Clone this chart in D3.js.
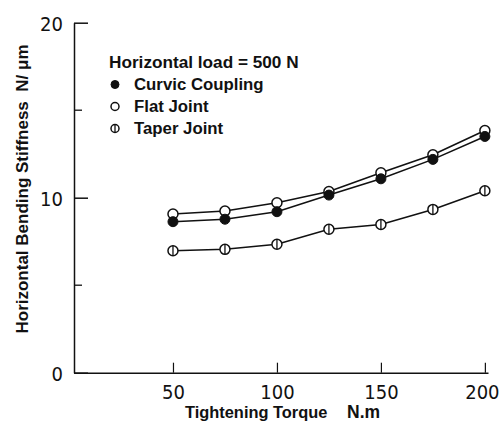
<!DOCTYPE html>
<html><head><meta charset="utf-8">
<script src="https://cdn.jsdelivr.net/npm/d3@7"></script>
<style>
html,body{margin:0;padding:0;background:#fff;}
svg{display:block;}
.bold{font-family:"Liberation Sans",Arial,sans-serif;font-weight:bold;fill:#111;}
</style>
</head><body>
<script>
const torque = [50, 75, 100, 125, 150, 175, 200];
const curvic = [8.63, 8.77, 9.2, 10.15, 11.08, 12.19, 13.5];
const flat   = [9.07, 9.24, 9.71, 10.35, 11.42, 12.45, 13.84];
const taper  = [6.97, 7.05, 7.34, 8.2, 8.47, 9.33, 10.4];
const xTicks = [50, 100, 150, 200];
const yTicks = [0, 10, 20];
const yMinor = [5, 15];
const legendTitle = "Horizontal load = 500 N";
const seriesNames = ["Curvic Coupling", "Flat Joint", "Taper Joint"];
const xTitle = "Tightening Torque";
const xUnit = "N.m";
const yTitle = "Horizontal Bending Stiffness  N/ \u03bcm";

const W = 500, H = 431;
const svg = d3.select("body").append("svg").attr("width", W).attr("height", H);

const x = d3.scaleLinear().domain([2.4, 201.5]).range([74, 488]);
const y = d3.scaleLinear().domain([0, 20]).range([372.7, 22.7]);

const tickFont = '"DejaVu Sans Condensed","Liberation Sans Narrow",sans-serif';

// X axis
const gx = svg.append("g").attr("transform", `translate(0,${y(0)})`)
  .call(d3.axisBottom(x).tickValues(xTicks).tickSizeInner(-10).tickSizeOuter(0).tickPadding(12).tickFormat(d3.format("d")));
gx.select(".domain").attr("stroke", "#111").attr("stroke-width", 1.5);
gx.selectAll(".tick line").attr("stroke", "#111").attr("stroke-width", 1.2);
gx.selectAll(".tick text").attr("font-family", tickFont).attr("font-size", 20).attr("fill", "#111")
  .attr("dx", d => d === 200 ? -3 : 0);

// Y axis
const gy = svg.append("g").attr("transform", `translate(${x(2.4)},0)`)
  .call(d3.axisLeft(y).tickValues(yTicks).tickSizeInner(-14).tickSizeOuter(0).tickPadding(11).tickFormat(d3.format("d")));
gy.select(".domain").attr("stroke", "#111").attr("stroke-width", 1.5);
gy.selectAll(".tick line").attr("stroke", "#111").attr("stroke-width", 1.5);
gy.selectAll(".tick text").attr("font-family", tickFont).attr("font-size", 20).attr("fill", "#111").attr("dy", "0.4em");
gy.selectAll(".minor").data(yMinor).enter().append("line")
  .attr("x1", 0).attr("x2", 8).attr("y1", d => y(d)).attr("y2", d => y(d))
  .attr("stroke", "#111").attr("stroke-width", 1.3);

// Lines and markers
const line = d3.line().x((d, i) => x(torque[i])).y(d => y(d));
const R = 5;
function drawSeries(vals) {
  svg.append("path").datum(vals).attr("d", line)
    .attr("fill", "none").attr("stroke", "#111").attr("stroke-width", 1.6);
}
function drawMarkers(vals, type, r) {
  const g = svg.append("g");
  vals.forEach((v, i) => marker(g, x(torque[i]), y(v), type, r));
}
function marker(g, cx, cy, type, r) {
  if (type === 0) {
    g.append("circle").attr("cx", cx).attr("cy", cy).attr("r", r).attr("fill", "#111").attr("stroke", "#111").attr("stroke-width", 1);
  } else {
    g.append("circle").attr("cx", cx).attr("cy", cy).attr("r", r).attr("fill", "#fff").attr("stroke", "#111").attr("stroke-width", 1.5);
    if (type === 2) {
      g.append("line").attr("x1", cx).attr("x2", cx).attr("y1", cy - r).attr("y2", cy + r)
        .attr("stroke", "#111").attr("stroke-width", 1.3);
    }
  }
}
drawSeries(flat);
drawSeries(curvic);
drawSeries(taper);
drawMarkers(flat, 1, R);
drawMarkers(curvic, 0, R);
drawMarkers(taper, 2, R);

// Legend
svg.append("text").attr("class", "bold").attr("x", 109).attr("y", 68).attr("font-size", 17.2).text(legendTitle);
const legY = [90, 112, 134];
seriesNames.forEach((n, i) => {
  const g = svg.append("g");
  marker(g, 115, legY[i] - 5.5, i, 4);
  svg.append("text").attr("class", "bold").attr("x", 134).attr("y", legY[i]).attr("font-size", 16.8).text(n);
});

// Axis titles
svg.append("text").attr("class", "bold").attr("x", 185).attr("y", 418).attr("font-size", 16.4).text(xTitle);
svg.append("text").attr("class", "bold").attr("x", 347).attr("y", 418).attr("font-size", 17.5).text(xUnit);
svg.append("text").attr("class", "bold").attr("transform", "translate(28,189) rotate(-90)")
  .attr("text-anchor", "middle").attr("font-size", 17).style("white-space", "pre").text(yTitle);
</script>
</body></html>
